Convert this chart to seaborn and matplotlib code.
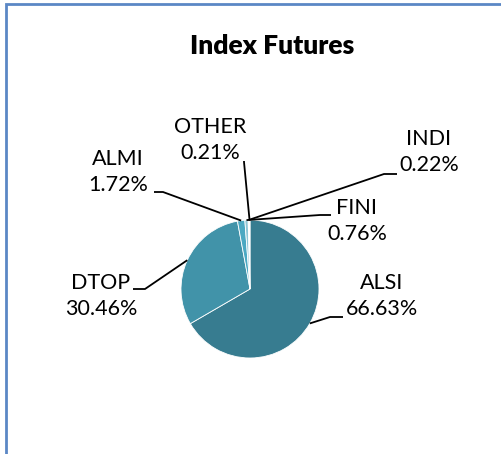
import numpy as np
import matplotlib
matplotlib.use("Agg")
import matplotlib.pyplot as plt
import seaborn as sns

# Datos del grafico
labels = ["ALSI", "DTOP", "ALMI", "FINI", "INDI", "OTHER"]
shares = [66.63, 30.46, 1.72, 0.76, 0.22, 0.21]
colors = ["#377c90", "#4193a9", "#4ba8c2", "#8ec6d6", "#b5dae5", "#d3e9f0"]

# Posiciones de etiquetas (pixeles): centro del texto, codo y final de la linea guia
label_pos = {
    "ALSI": ((382, 296), (330, 317), (343, 317)),
    "DTOP": ((101, 296), (145, 289), (133, 289)),
    "ALMI": ((118, 172), (163, 192), (154, 192)),
    "FINI": ((357, 221), (320, 215), (331, 215)),
    "INDI": ((429, 152), (384, 174), (397, 174)),
    "OTHER": ((210, 140), (244, 162), (244, 161)),
}

W, H = 502, 454
cx, cy, r = 250, 289, 69


def P(x, y):
    # pixel (origen arriba) -> datos (origen abajo)
    return x, H - y


sns.set_style("white")
plt.rcParams["font.family"] = ["Lato", "DejaVu Sans"]

fig = plt.figure(figsize=(W / 100, H / 100), dpi=100)
ax = fig.add_axes([0, 0, 1, 1])

wedges, _ = ax.pie(shares, colors=colors, startangle=90, counterclock=False,
                   center=P(cx, cy), radius=r, frame=True,
                   wedgeprops=dict(linewidth=0.6, edgecolor="white"))
ax.set_xlim(0, W)
ax.set_ylim(0, H)
ax.axis("off")

for w, lab, val in zip(wedges, labels, shares):
    ang = np.deg2rad((w.theta1 + w.theta2) / 2)
    x0 = cx + r * np.cos(ang)
    y0 = cy - r * np.sin(ang)
    (tx, ty), (ex, ey), (fx, fy) = label_pos[lab]
    xs = [x0, ex, fx]
    ys = [H - y0, H - ey, H - fy]
    ax.plot(xs, ys, color="black", lw=1.3, solid_capstyle="butt")
    ax.text(*P(tx, ty), f"{lab}\n{val:.2f}%", ha="center", va="center",
            fontsize=15.5, linespacing=1.35, color="black")

ax.text(*P(272, 46), "Index Futures", ha="center", va="center",
        fontsize=19, fontweight="heavy", color="black")

# Marco del grafico
ax.plot([6, 6, W + 5], [-5, H - 4, H - 4], color="#5b87c5", lw=2,
        solid_joinstyle="miter", clip_on=False)

fig.savefig("out.png", dpi=100)
